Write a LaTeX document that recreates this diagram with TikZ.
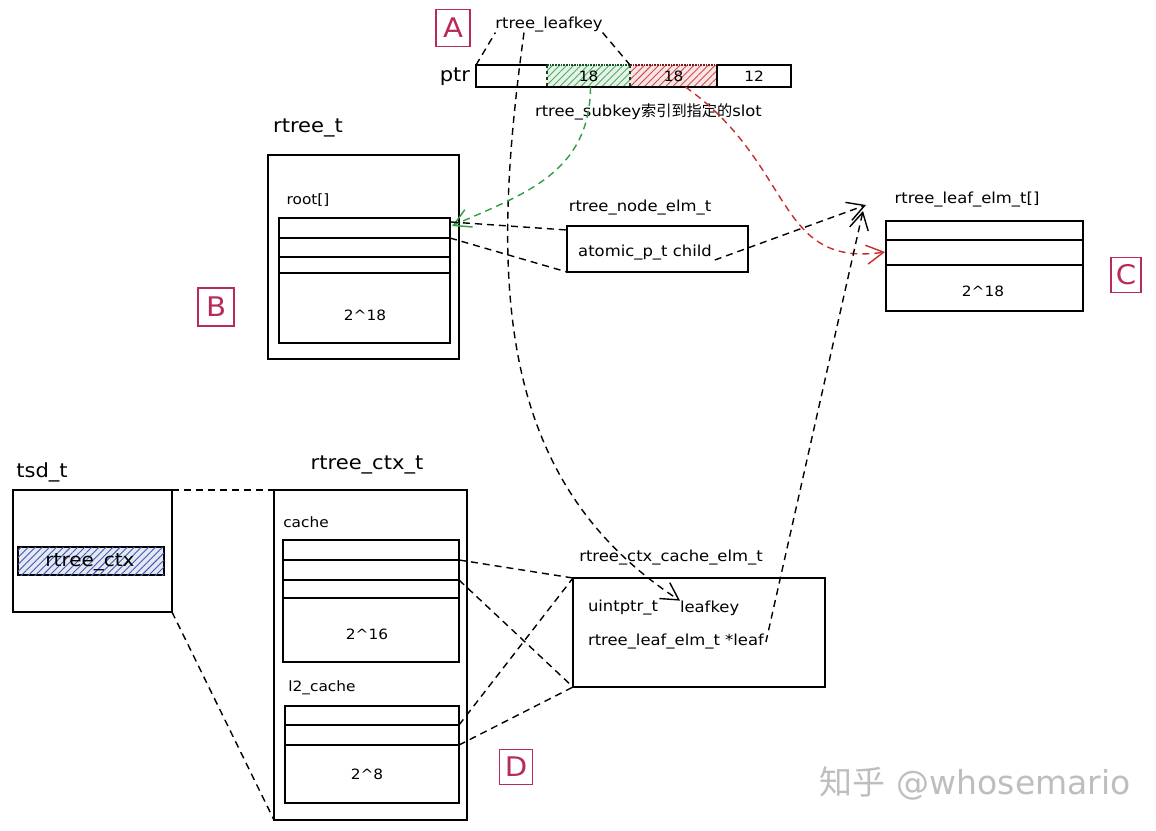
\documentclass[tikz,border=0pt]{standalone}
\usepackage{fontspec}
\setmainfont[FakeStretch=1.08]{DejaVu Sans}
\newfontfamily\cjk{Noto Sans CJK SC}
\newfontfamily\wmfont{DejaVu Sans}
\usetikzlibrary{patterns.meta,arrows.meta}
\definecolor{tagc}{RGB}{184,42,92}
\definecolor{grn}{RGB}{47,158,68}
\definecolor{rd}{RGB}{201,42,42}
\definecolor{blu}{RGB}{30,60,160}
\definecolor{wm}{RGB}{190,190,190}
\begin{document}
\begin{tikzpicture}[x=1pt,y=-1pt,
  every node/.style={inner sep=0pt, outer sep=0pt},
  box/.style={draw, line width=1.7pt, anchor=north west},
  title/.style={font=\fontsize{19.5}{21}\selectfont},
  txt/.style={font=\fontsize{15.2}{17}\selectfont},
  small/.style={font=\fontsize{14.2}{16}\selectfont},
  tagbox/.style={draw=tagc, text=tagc, line width=1.5pt, font=\fontsize{27}{27}\selectfont},
  dsh/.style={dash pattern=on 7pt off 5pt, line width=1.4pt},
  arr/.style={-{Straight Barb[length=17pt,width=19pt,line width=1.4pt]}},
  slotline/.style={line width=1.7pt},
  hatch/.style={fill=#1!12, postaction={pattern={Lines[angle=45,distance=5pt,line width=0.9pt]}, pattern color=#1!85}},
]
\useasboundingbox[fill=white] (0,0) rectangle (1156,830);

% ---------- tags ----------
\node[tagbox, minimum width=34pt, minimum height=37pt] (tagA) at (453,28) {A};
\node[tagbox, minimum width=36pt, minimum height=38pt] (tagB) at (216,307) {B};
\node[tagbox, minimum width=30pt, minimum height=35pt] (tagC) at (1126,275) {C};
\node[tagbox, minimum width=33pt, minimum height=35pt] (tagD) at (516,767) {D};

% ---------- ptr bar ----------
\node[title] (ptrl) at (455,77) {ptr};
\node[txt] (lk) at (549,25) {rtree\_leafkey};
\node[anchor=north west, minimum width=71pt, minimum height=22pt] (s0) at (476,65) {};
\node[anchor=north west, minimum width=83pt, minimum height=22pt, hatch=grn, small] (s1) at (547,65) {18};
\node[anchor=north west, minimum width=87pt, minimum height=22pt, hatch=rd, small] (s2) at (630,65) {18};
\node[anchor=north west, minimum width=74pt, minimum height=22pt, small] (s3) at (717,65) {12};
\draw[line width=1.7pt] (s1.north west) -- (s0.north west) -- (s0.south west) -- (s3.south east) -- (s3.north east) -- (s3.north west) -- (s2.north east);
\draw[line width=1.7pt, densely dotted, grn!50!black] (s1.north west) -- (s1.north east);
\draw[line width=1.7pt, densely dotted, rd!60!black] (s2.north west) -- (s2.north east);
\draw[line width=1.2pt, dashed, grn!40!black] (s1.north west) -- (s1.south west);
\draw[line width=1.2pt, dashed, grn!40!black] (s2.north west) -- (s2.south west);
\draw[line width=1.5pt] (s3.north west) -- (s3.south west);
\node[txt, anchor=west] (sk) at (535,112) {rtree\_subkey{\cjk 索引到指定的}slot};

% ---------- rtree_t ----------
\node[title] (rtl) at (308,128) {rtree\_t};
\node[box, minimum width=191pt, minimum height=204pt] (rtreet) at (268,155) {};
\node[small] (rootl) at (308,200) {root[]};
\node[box, minimum width=171pt, minimum height=125pt] (rootarr) at (279,218) {};
\draw[slotline] (279,238) -- (450,238) coordinate (r1);
\draw[slotline] (279,257) -- (450,257);
\draw[slotline] (279,273) -- (450,273);
\node[small] (r18) at (365,315) {2\textasciicircum 18};
\coordinate (rA) at (451,222);
\coordinate (rG) at (452,226);

% ---------- rtree_node_elm_t ----------
\node[txt] (nodel) at (640,208) {rtree\_node\_elm\_t};
\node[box, minimum width=181pt, minimum height=46pt] (nodebox) at (567,226) {};
\node[txt] (chtxt) at (645,253) {atomic\_p\_t child};

% ---------- rtree_leaf_elm_t[] ----------
\node[txt] (leafl) at (967,200) {rtree\_leaf\_elm\_t[]};
\node[box, minimum width=197pt, minimum height=90pt] (leafarr) at (886,221) {};
\draw[slotline] (886,240) -- (1083,240);
\draw[slotline] (886,265) -- (1083,265);
\node[small] (l18) at (983,291) {2\textasciicircum 18};
\coordinate (lfT1) at (866,205);
\coordinate (lfT2) at (863,211);
\coordinate (lfR) at (885,252);

% ---------- tsd_t ----------
\node[title] (tsdl) at (42,472) {tsd\_t};
\node[box, minimum width=159pt, minimum height=122pt] (tsd) at (13,490) {};
\node[box, minimum width=146pt, minimum height=28pt, hatch=blu] (ctxbox) at (18,547) {};
\node[font=\fontsize{18.5}{20}\selectfont] (ctxtxt) at (90,562) {rtree\_ctx};

% ---------- rtree_ctx_t ----------
\node[title] (ctxl) at (367,465) {rtree\_ctx\_t};
\node[box, minimum width=193pt, minimum height=330pt] (ctx) at (274,490) {};
\node[small] (cachel) at (306,522) {cache};
\node[box, minimum width=176pt, minimum height=122pt] (cachearr) at (283,540) {};
\draw[slotline] (283,560) -- (459,560) coordinate (c1);
\draw[slotline] (283,580) -- (459,580) coordinate (c2);
\draw[slotline] (283,598) -- (459,598);
\node[small] (c16) at (367,634) {2\textasciicircum 16};
\node[small] (l2l) at (322,688) {l2\_cache};
\node[box, minimum width=174pt, minimum height=97pt] (l2arr) at (285,706) {};
\draw[slotline] (285,725) -- (459,725) coordinate (q1);
\draw[slotline] (285,745) -- (459,745) coordinate (q2);
\node[small] (c8) at (367,774) {2\textasciicircum 8};

% ---------- rtree_ctx_cache_elm_t ----------
\node[txt] (elml) at (671,558) {rtree\_ctx\_cache\_elm\_t};
\node[box, minimum width=252pt, minimum height=109pt] (elm) at (573,578) {};
\node[txt, anchor=west] (ukey) at (588,608) {uintptr\_t};
\node[txt, anchor=west] (lkey) at (680,608) {leafkey};
\node[txt, anchor=west] (leaftxt) at (588,642) {rtree\_leaf\_elm\_t *leaf};

% ---------- watermark ----------
\node[text=wm, font=\fontsize{33}{35}\selectfont] (wmark) at (975,783) {{\cjk 知乎} {\wmfont @whosemario}};

% ---------- connectors ----------
\draw[dsh] (s0.north west) -- (lk.south west);
\draw[dsh] (lk.south east) -- (s2.north west);
\draw[dsh, arr] ([xshift=-25pt]lk.south) .. controls (490,280) and (495,480) .. (lkey.north west);
\draw[dsh, grn, arr] ([xshift=2pt]s1.south) .. controls (590,175) and (520,195) .. (rG);
\draw[dsh, rd, arr] ([xshift=12pt]s2.south) .. controls (795,165) and (775,268) .. (lfR);
\draw[dsh] (rA) -- ([yshift=-4pt]nodebox.north west);
\draw[dsh] (r1) -- (nodebox.south west);
\draw[dsh, arr] ([xshift=3pt,yshift=-7pt]chtxt.east) -- (lfT1);
\draw[dsh, arr] ([xshift=2pt]leaftxt.east) -- (lfT2);
\draw[dsh] (tsd.north east) -- (ctx.north west);
\draw[dsh] (tsd.south east) -- (ctx.south west);
\draw[dsh] (c1) -- (elm.north west);
\draw[dsh] (c2) -- (elm.south west);
\draw[dsh] (q1) -- (elm.north west);
\draw[dsh] (q2) -- (elm.south west);
\end{tikzpicture}
\end{document}
